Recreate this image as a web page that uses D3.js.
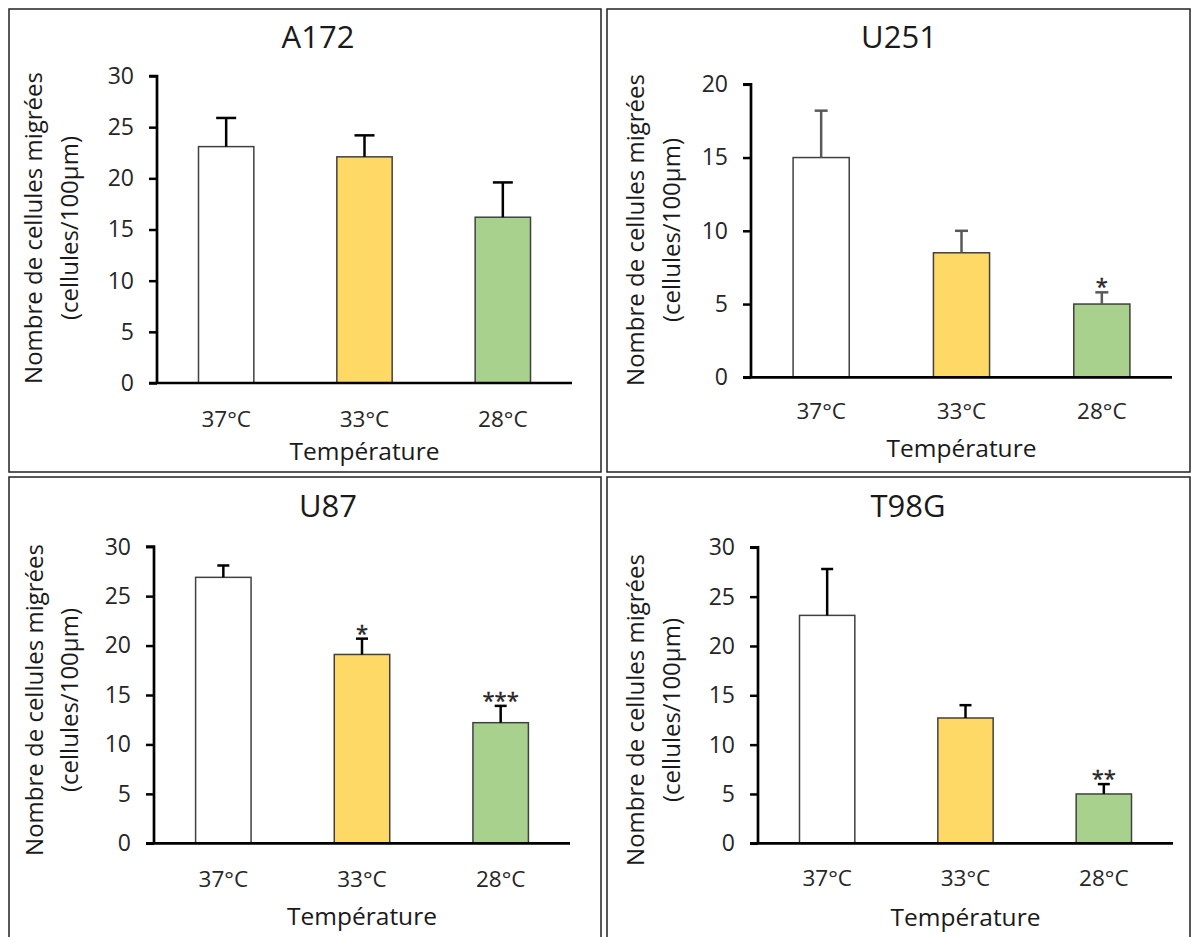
<!DOCTYPE html>
<html>
<head>
<meta charset="utf-8">
<script src="https://cdn.jsdelivr.net/npm/d3@7"></script>
<style>
  html, body { margin: 0; padding: 0; background: #ffffff; }
  svg { display: block; }
  text { font-family: "Open Sans", "Noto Sans", sans-serif; fill: #1a1a1a; }
</style>
</head>
<body>
<svg id="chart" width="1194" height="937"></svg>
<script>
// ---------- data ----------
const categories = ["37°C", "33°C", "28°C"];
const cellLines = ["A172", "U251", "U87", "T98G"];

const a172Means = [23.1, 22.1, 16.2];
const a172Errors = [2.8, 2.1, 3.4];
const a172Stars = ["", "", ""];

const u251Means = [15.0, 8.5, 5.0];
const u251Errors = [3.2, 1.5, 0.8];
const u251Stars = ["", "", "*"];

const u87Means = [26.9, 19.1, 12.2];
const u87Errors = [1.2, 1.6, 1.7];
const u87Stars = ["", "*", "***"];

const t98gMeans = [23.1, 12.7, 5.0];
const t98gErrors = [4.7, 1.3, 1.0];
const t98gStars = ["", "", "**"];

const ticks30 = [0, 5, 10, 15, 20, 25, 30];
const ticks20 = [0, 5, 10, 15, 20];

const yLabelLine1 = "Nombre de cellules migrées";
const yLabelLine2 = "(cellules/100µm)";
const xLabel = "Température";

// ---------- layout (styles/positions) ----------
const barColors = ["#FFFFFF", "#FFD966", "#A9D18E"];
const panels = [
  { name: cellLines[0], means: a172Means, errs: a172Errors, stars: a172Stars, ticks: ticks30, max: 30,
    box: [9, 9, 592, 463], x0: 157, x1: 572, yTop: 76, yBot: 383, titleX: 318, titleY: 48,
    lab1X: 34, lab2X: 70, labY: 228, catDy: 44, xlabDy: 77, errColor: "#000", cap: 20 },
  { name: cellLines[1], means: u251Means, errs: u251Errors, stars: u251Stars, ticks: ticks20, max: 20,
    box: [607, 9, 583, 463], x0: 751, x1: 1172, yTop: 84.3, yBot: 377.3, titleX: 899, titleY: 48,
    lab1X: 636, lab2X: 672, labY: 230, catDy: 42, xlabDy: 80, errColor: "#595959", cap: 13 },
  { name: cellLines[2], means: u87Means, errs: u87Errors, stars: u87Stars, ticks: ticks30, max: 30,
    box: [9, 477, 592, 470], x0: 154, x1: 570, yTop: 546.7, yBot: 843.3, titleX: 328, titleY: 517,
    lab1X: 35, lab2X: 70, labY: 700, catDy: 44, xlabDy: 82, errColor: "#000", cap: 12 },
  { name: cellLines[3], means: t98gMeans, errs: t98gErrors, stars: t98gStars, ticks: ticks30, max: 30,
    box: [607, 477, 583, 470], x0: 758, x1: 1173, yTop: 547.3, yBot: 843.3, titleX: 908, titleY: 517,
    lab1X: 636, lab2X: 672, labY: 710, catDy: 43, xlabDy: 83, errColor: "#000", cap: 12 }
];

const svg = d3.select("#chart");

panels.forEach(p => {
  const g = svg.append("g");
  // panel border
  g.append("rect")
    .attr("x", p.box[0]).attr("y", p.box[1])
    .attr("width", p.box[2]).attr("height", p.box[3])
    .attr("fill", "none").attr("stroke", "#222").attr("stroke-width", 1.5);

  const x = d3.scaleBand().domain(categories).range([p.x0, p.x1])
    .paddingInner(0.6).paddingOuter(0.3);
  const y = d3.scaleLinear().domain([0, p.max]).range([p.yBot, p.yTop]);

  // title
  g.append("text").attr("x", p.titleX).attr("y", p.titleY)
    .attr("text-anchor", "middle").style("font-size", "31px").text(p.name);

  // bars
  g.selectAll("rect.bar").data(p.means).join("rect")
    .attr("class", "bar")
    .attr("x", (d, i) => x(categories[i]))
    .attr("width", x.bandwidth())
    .attr("y", d => y(d))
    .attr("height", d => y(0) - y(d))
    .attr("fill", (d, i) => barColors[i])
    .attr("stroke", "#404040").attr("stroke-width", 1.5);

  // error bars
  const eb = g.selectAll("g.err").data(p.means).join("g").attr("class", "err");
  eb.append("line")
    .attr("x1", (d, i) => x(categories[i]) + x.bandwidth() / 2)
    .attr("x2", (d, i) => x(categories[i]) + x.bandwidth() / 2)
    .attr("y1", d => y(d))
    .attr("y2", (d, i) => y(d + p.errs[i]))
    .attr("stroke", p.errColor).attr("stroke-width", 2.5);
  eb.append("line")
    .attr("x1", (d, i) => x(categories[i]) + x.bandwidth() / 2 - p.cap / 2)
    .attr("x2", (d, i) => x(categories[i]) + x.bandwidth() / 2 + p.cap / 2)
    .attr("y1", (d, i) => y(d + p.errs[i]))
    .attr("y2", (d, i) => y(d + p.errs[i]))
    .attr("stroke", p.errColor).attr("stroke-width", 2.5);

  // significance stars
  g.selectAll("text.star").data(p.means).join("text")
    .attr("class", "star")
    .attr("x", (d, i) => x(categories[i]) + x.bandwidth() / 2)
    .attr("y", (d, i) => y(d + p.errs[i]) + 2)
    .attr("text-anchor", "middle")
    .style("font-size", "22px").style("fill", "#262626")
    .style("stroke", "#262626").style("stroke-width", 0.4)
    .text((d, i) => p.stars[i]);

  // y axis
  const yAxis = d3.axisLeft(y).tickValues(p.ticks).tickSize(8).tickPadding(15)
    .tickFormat(d3.format("d"));
  const ya = g.append("g").attr("transform", `translate(${p.x0},0)`).call(yAxis);
  ya.select(".domain").attr("stroke", "#000").attr("stroke-width", 2.7)
    .attr("d", `M-8,${p.yTop}H0V${p.yBot}`);
  ya.selectAll(".tick line").attr("stroke", "#000").attr("stroke-width", 2.5);
  ya.selectAll(".tick text").style("font-size", "23px").style("fill", "#262626")
    .style("font-family", "'Open Sans', sans-serif");

  // x axis line
  const xa = g.append("g").attr("transform", `translate(0,${p.yBot})`)
    .call(d3.axisBottom(x).tickSize(0).tickPadding(0));
  xa.select(".domain").attr("stroke", "#000").attr("stroke-width", 2.7)
    .attr("d", `M${p.x0 - 8},0H${p.x1}`);
  xa.selectAll(".tick text").attr("y", p.catDy).attr("dy", 0)
    .style("font-size", "22.5px").style("fill", "#262626")
    .style("font-family", "'Open Sans', sans-serif");

  // x axis title
  g.append("text").attr("x", (p.x0 + p.x1) / 2).attr("y", p.yBot + p.xlabDy)
    .attr("text-anchor", "middle").style("font-size", "24.5px").text(xLabel);

  // y axis title (two lines)
  g.append("text")
    .attr("transform", `translate(${p.lab1X},${p.labY}) rotate(-90)`)
    .attr("text-anchor", "middle").attr("dy", "0.35em")
    .style("font-size", "24px").text(yLabelLine1);
  g.append("text")
    .attr("transform", `translate(${p.lab2X},${p.labY}) rotate(-90)`)
    .attr("text-anchor", "middle").attr("dy", "0.35em")
    .style("font-size", "24px").text(yLabelLine2);
});
</script>
</body>
</html>
